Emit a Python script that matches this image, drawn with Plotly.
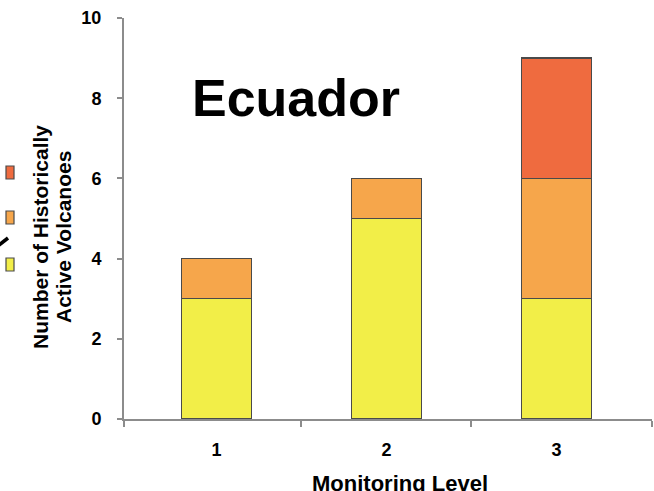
import plotly.graph_objects as go

# Monitoring level categories and the volcano counts stacked in each bar
levels = [1, 2, 3]
low_threat = [3, 5, 3]
moderate_threat = [1, 1, 3]
high_threat = [0, 0, 3]

y_ticks = [0, 2, 4, 6, 8, 10]
x_tick_labels = ["1", "2", "3"]
category_edges = [0.456, 1.5, 2.5, 3.562]

COL_YELLOW = "#F2EE48"
COL_ORANGE = "#F6A64B"
COL_RED = "#EF6B3F"
OUTLINE = "#4a4a4a"
AXIS_GREY = "#8c8c8c"
FONT = "Liberation Sans, Arial, sans-serif"

W, H = 654, 491
L, R, T, B = 124, 2, 18, 72
PW, PH = W - L - R, H - T - B


def px(xp):
    return (xp - L) / PW


def py(yp):
    return (H - B - yp) / PH


fig = go.Figure()
for name, vals, col in [("Low", low_threat, COL_YELLOW),
                        ("Moderate", moderate_threat, COL_ORANGE),
                        ("High", high_threat, COL_RED)]:
    fig.add_trace(go.Bar(
        x=levels, y=vals, name=name, width=0.41,
        marker=dict(color=col, line=dict(color=OUTLINE, width=1.5)),
        showlegend=False,
    ))

fig.update_layout(
    barmode="stack",
    width=W, height=H,
    margin=dict(l=L, r=R, t=T, b=B, pad=0),
    paper_bgcolor="white", plot_bgcolor="white",
    font=dict(family=FONT, color="black"),
    xaxis=dict(
        range=[category_edges[0], category_edges[-1]],
        tickmode="array", tickvals=levels, ticktext=x_tick_labels,
        ticks="", showgrid=False, zeroline=False,
        showline=True, linecolor=AXIS_GREY, linewidth=2,
        tickfont=dict(size=18, family=FONT, weight="bold"),
        ticklabelstandoff=13,
        minor=dict(tickmode="array", tickvals=category_edges,
                   ticks="outside", ticklen=6, tickwidth=1.5,
                   tickcolor=AXIS_GREY, showgrid=False),
    ),
    yaxis=dict(
        range=[0, 10], tickmode="array", tickvals=y_ticks,
        ticks="outside", ticklen=5, tickwidth=1.5, tickcolor=AXIS_GREY,
        showgrid=False, zeroline=False,
        showline=True, linecolor=AXIS_GREY, linewidth=2,
        tickfont=dict(size=18, family=FONT, weight="bold"),
        ticklabelstandoff=12,
    ),
)

# Country title inside the plot
fig.add_annotation(
    text="<b>Ecuador</b>", xref="paper", yref="paper",
    x=px(190), y=py(98), xanchor="left", yanchor="middle",
    showarrow=False, font=dict(size=52, family=FONT, color="black"),
)

# Y axis title, two rotated lines
for xc, line in [(40, "Number of Historically"), (63, "Active Volcanoes")]:
    fig.add_annotation(
        text="<b>" + line + "</b>",
        xref="paper", yref="paper", x=px(xc), y=py(237),
        xanchor="center", yanchor="middle", textangle=-90, showarrow=False,
        font=dict(size=21, family=FONT, color="black"),
    )

# X axis title
fig.add_annotation(
    text="<b>Monitoring Level</b>", xref="paper", yref="paper",
    x=px(400), y=py(469), xanchor="center", yanchor="top",
    showarrow=False, font=dict(size=22, family=FONT, color="black"),
)

# Colour key swatches at the left edge
for top, col in [(166, COL_RED), (211, COL_ORANGE), (258, COL_YELLOW)]:
    fig.add_shape(type="rect", xref="paper", yref="paper",
                  x0=px(6), x1=px(14), y0=py(top + 13), y1=py(top),
                  fillcolor=col, line=dict(color=OUTLINE, width=1.2))

# Partial arrow stroke at the left margin
fig.add_shape(type="line", xref="paper", yref="paper",
              x0=px(-1), y0=py(245), x1=px(8), y1=py(238),
              line=dict(color="black", width=3.5))

fig.write_html("out.html")
